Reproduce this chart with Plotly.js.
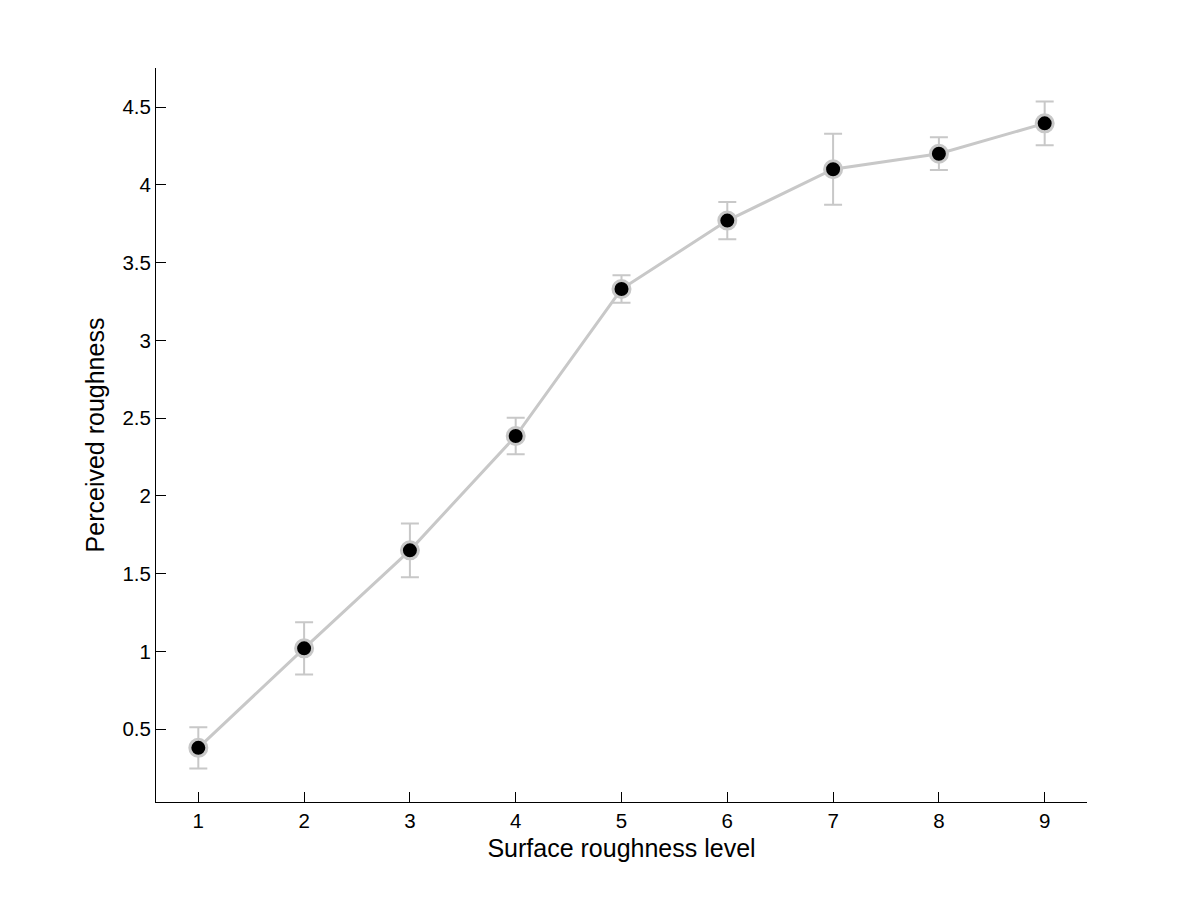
<!DOCTYPE html>
<html>
<head>
<meta charset="utf-8">
<script src="https://cdn.plot.ly/plotly-3.0.1.min.js"></script>
<style>html,body{margin:0;padding:0;background:#fff;}#chart{width:1201px;height:901px;}</style>
</head>
<body>
<div id="chart"></div>
<script>
const levels = [1, 2, 3, 4, 5, 6, 7, 8, 9];
const perceived = [0.38, 1.02, 1.65, 2.385, 3.33, 3.77, 4.10, 4.20, 4.395];
const errors = [0.133, 0.168, 0.173, 0.117, 0.088, 0.12, 0.228, 0.105, 0.14];
const xTitle = 'Surface roughness level';
const yTitle = 'Perceived roughness';

const gray = '#c8c8c8';
const trace = {
  x: levels,
  y: perceived,
  type: 'scatter',
  mode: 'lines+markers',
  line: {color: gray, width: 3},
  marker: {color: '#000000', size: 17, line: {color: gray, width: 3}},
  error_y: {type: 'data', array: errors, visible: true, color: gray, thickness: 2, width: 9},
  showlegend: false,
  hoverinfo: 'x+y'
};

const fam = 'Liberation Sans, Arial, sans-serif';
const axisFont = {family: fam, size: 20.5, color: '#000'};
const titleFont = {family: fam, size: 25, color: '#000'};
const layout = {
  width: 1201,
  height: 901,
  paper_bgcolor: '#ffffff',
  plot_bgcolor: '#ffffff',
  margin: {l: 156, r: 114, t: 68, b: 99},
  font: axisFont,
  xaxis: {
    range: [0.6, 9.4],
    tickvals: levels,
    ticktext: levels.map(String),
    ticks: 'inside',
    ticklen: 10,
    tickwidth: 1,
    tickcolor: '#000',
    showline: true,
    linecolor: '#000',
    linewidth: 1,
    showgrid: false,
    zeroline: false,
    tickfont: axisFont,
    title: {text: xTitle, font: titleFont, standoff: 8}
  },
  yaxis: {
    range: [0.032, 4.751],
    tickvals: [0.5, 1, 1.5, 2, 2.5, 3, 3.5, 4, 4.5],
    ticktext: ['0.5', '1', '1.5', '2', '2.5', '3', '3.5', '4', '4.5'],
    ticks: 'inside',
    ticklen: 10,
    tickwidth: 1,
    tickcolor: '#000',
    showline: true,
    linecolor: '#000',
    linewidth: 1,
    showgrid: false,
    zeroline: false,
    tickfont: axisFont,
    title: {text: yTitle, font: titleFont, standoff: 10}
  }
};

Plotly.newPlot('chart', [trace], layout, {displayModeBar: false, staticPlot: true});
</script>
</body>
</html>
